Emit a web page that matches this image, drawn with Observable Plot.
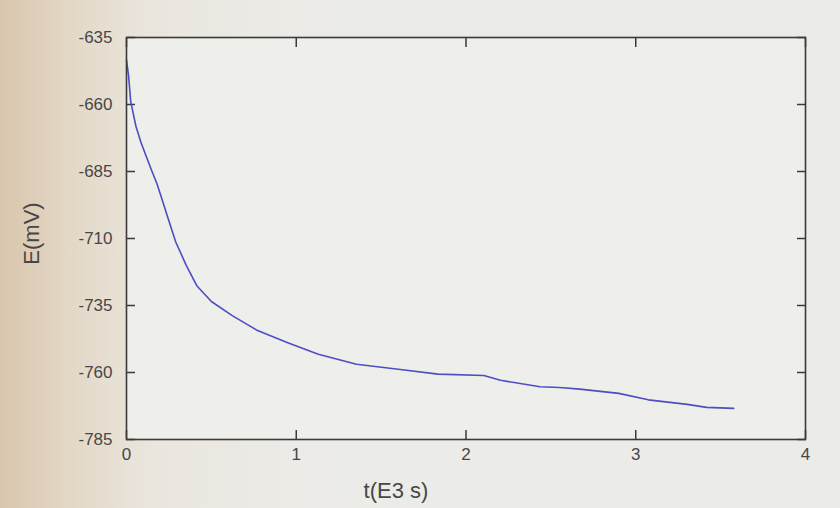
<!DOCTYPE html>
<html>
<head>
<meta charset="utf-8">
<script src="https://cdn.jsdelivr.net/npm/d3@7"></script>
<script src="https://cdn.jsdelivr.net/npm/@observablehq/plot@0.6"></script>
<style>
  html, body { margin: 0; padding: 0; }
  body {
    width: 840px; height: 508px; overflow: hidden;
    background: linear-gradient(to right, #d9c6ad 0%, #e4d9c8 9%, #eae6de 18%, #ecebe7 35%, #ebebe8 100%);
    font-family: "Liberation Sans", Arial, sans-serif;
  }
  #chart svg { display: block; }
</style>
</head>
<body>
<div id="chart"></div>
<script>
// time in E3 s
const tValues = [0, 0.012, 0.025, 0.056, 0.086, 0.148, 0.179, 0.21, 0.24, 0.29, 0.352, 0.414, 0.5, 0.623, 0.765, 0.95, 1.13, 1.355, 1.613, 1.835, 2.105, 2.203, 2.436, 2.552, 2.67, 2.9, 3.074, 3.303, 3.417, 3.577];
// potential in mV
const eValues = [-643.4, -649.1, -659.0, -668.2, -674.3, -684.6, -689.5, -695.5, -701.5, -711.3, -720.0, -727.6, -733.5, -738.8, -744.1, -748.9, -753.2, -756.9, -758.9, -760.6, -761.1, -762.9, -765.3, -765.6, -766.2, -767.8, -770.2, -771.9, -773.0, -773.4];
const xTicks = [0, 1, 2, 3, 4];
const yTicks = [-635, -660, -685, -710, -735, -760, -785];
const xLabel = "t(E3 s)";
const yLabel = "E(mV)";

const data = tValues.map((t, i) => ({t, e: eValues[i]}));
const blank = () => "";
const TK = 9;

const chart = Plot.plot({
  width: 840,
  height: 508,
  marginLeft: 126,
  marginRight: 35,
  marginTop: 37,
  marginBottom: 69,
  style: {background: "transparent", fontFamily: "Liberation Sans, Arial, sans-serif", color: "#474747"},
  x: {domain: [0, 4]},
  y: {domain: [-785, -635]},
  marks: [
    Plot.frame({fill: "#eeeeeb", stroke: "none"}),
    Plot.axisY(yTicks, {anchor: "left", tickSize: 0, tickPadding: 14, fontSize: 17, label: null, tickFormat: d => String(d), fill: "#474747"}),
    Plot.axisY(yTicks, {anchor: "left", tickSize: TK, dx: TK, tickFormat: blank, label: null, stroke: "#3a3a3a", strokeWidth: 1.5}),
    Plot.axisY(yTicks, {anchor: "right", tickSize: TK, dx: -TK, tickFormat: blank, label: null, stroke: "#3a3a3a", strokeWidth: 1.5}),
    Plot.axisX(xTicks, {anchor: "bottom", tickSize: 0, tickPadding: 8, fontSize: 17, label: null, tickFormat: d => String(d), fill: "#474747"}),
    Plot.axisX(xTicks, {anchor: "bottom", tickSize: TK, dy: -TK, tickFormat: blank, label: null, stroke: "#3a3a3a", strokeWidth: 1.5}),
    Plot.axisX(xTicks, {anchor: "top", tickSize: TK, dy: TK, tickFormat: blank, label: null, stroke: "#3a3a3a", strokeWidth: 1.5}),
    Plot.text([yLabel], {frameAnchor: "left", dx: -95, dy: -5, rotate: -90, fontSize: 22, fill: "#474747", textAnchor: "middle", lineAnchor: "middle"}),
    Plot.text([xLabel], {frameAnchor: "bottom", dx: -70, dy: 51, fontSize: 22, fill: "#474747", textAnchor: "middle", lineAnchor: "middle"}),
    Plot.line(data, {x: "t", y: "e", stroke: "#4d4dc4", strokeWidth: 1.6}),
    Plot.frame({stroke: "#3a3a3a", strokeWidth: 1.6})
  ]
});
document.getElementById("chart").appendChild(chart);
</script>
</body>
</html>
